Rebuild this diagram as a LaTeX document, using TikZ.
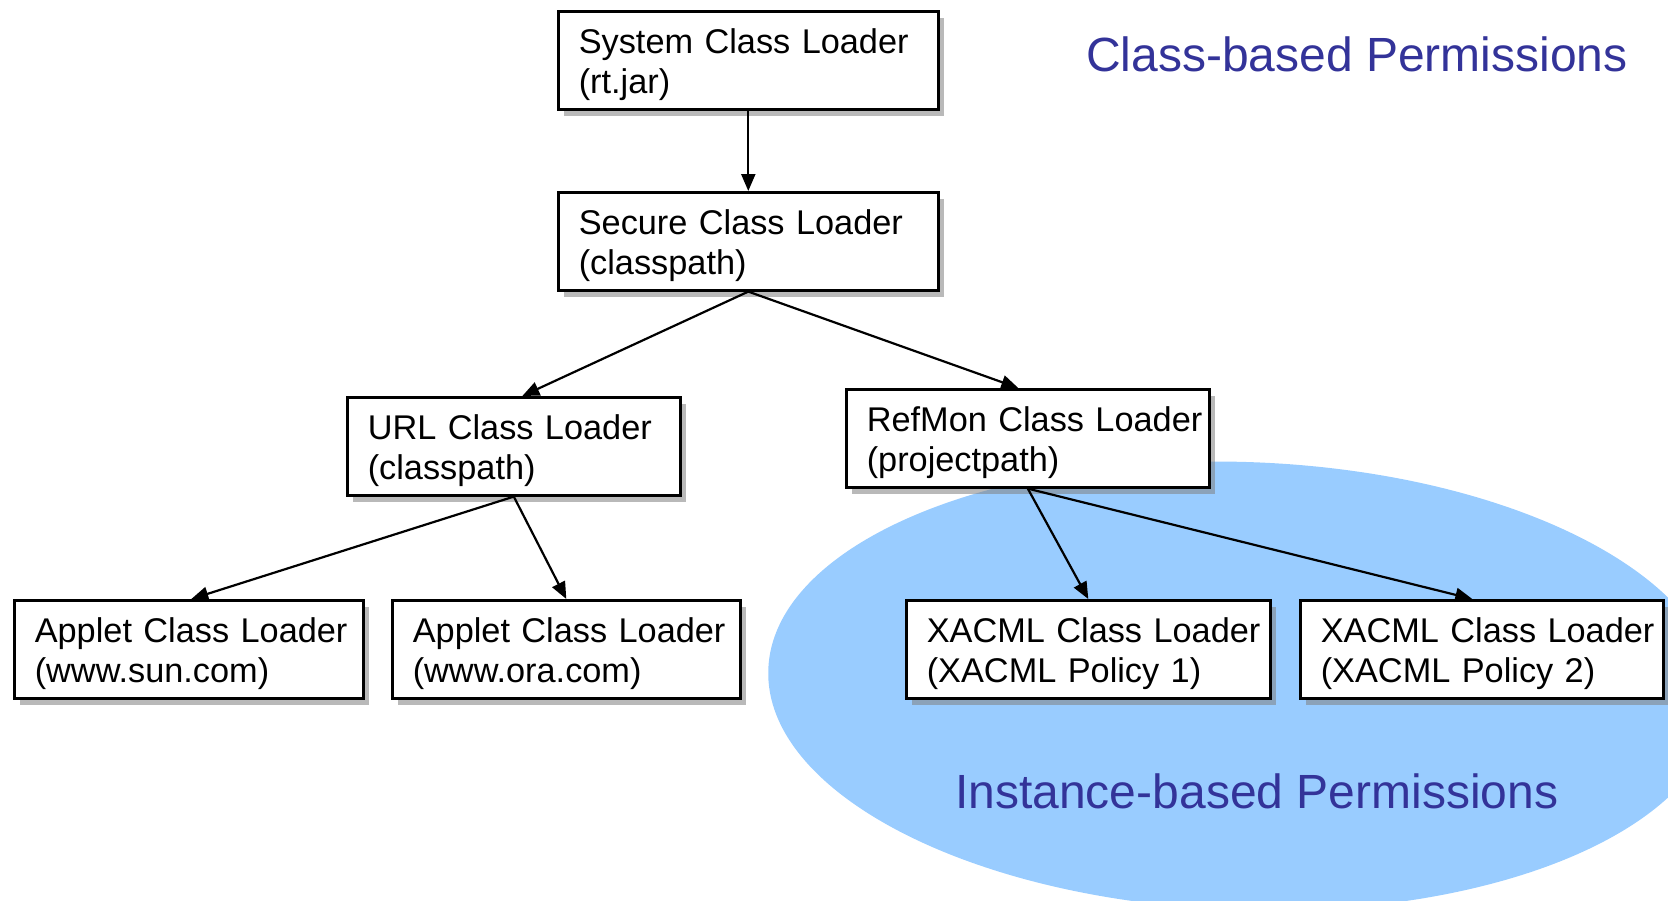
\documentclass[tikz,border=0pt]{standalone}
\usepackage{fontspec}
\setmainfont{Liberation Sans}
\usetikzlibrary{arrows.meta,shadows,calc}
\definecolor{permblue}{RGB}{51,51,153}
\definecolor{zonefill}{RGB}{153,204,255}
% two-line loader label: name on the first line, source on the second
\newcommand{\loaderlabel}[2]{\hspace*{20.5pt}\mbox{\rule{0pt}{42pt}#1}\\\hspace*{20.5pt}\mbox{#2\rule[-16pt]{0pt}{16pt}}}
\begin{document}
\begin{tikzpicture}[x=1pt,y=-1pt,
  loader/.style={draw=black, line width=2.6pt, fill=white, anchor=north west,
    inner xsep=0pt, inner ysep=0pt, align=left,
    font=\fontsize{34.3pt}{40pt}\selectfont,
    drop shadow={shadow xshift=6pt, shadow yshift=-7pt, fill=black!50, opacity=0.55}},
  link/.style={line width=2.2pt, -{Triangle[length=17pt,width=14pt]}},
  caption/.style={text=permblue, font=\fontsize{48pt}{56pt}\selectfont,
    anchor=base west, inner sep=0pt}]
\useasboundingbox (0,0) rectangle (1668,900);
\clip (0,0) rectangle (1668,900);

% instance-based permission zone
\fill[zonefill] (1243,686) circle [x radius=475pt, y radius=224pt, rotate=-2];

% class loader hierarchy
\node[loader, text width=380pt] (system) at (557,10)  {\loaderlabel{System Class Loader}{(rt.jar)}};
\node[loader, text width=380pt] (secure) at (557,191) {\loaderlabel{Secure Class Loader}{(classpath)}};
\node[loader, text width=333pt] (url)    at (346,396) {\loaderlabel{URL Class Loader}{(classpath)}};
\node[loader, text width=363pt] (refmon) at (845,388) {\loaderlabel{RefMon Class Loader}{(projectpath)}};
\node[loader, text width=349pt] (sun)    at (13,599)  {\loaderlabel{Applet Class Loader}{(www.sun.com)}};
\node[loader, text width=348pt] (ora)    at (391,599) {\loaderlabel{Applet Class Loader}{(www.ora.com)}};
\node[loader, text width=364pt] (xa1)    at (905,599) {\loaderlabel{XACML Class Loader}{(XACML Policy 1)}};
\node[loader, text width=363pt] (xa2)    at (1299,599) {\loaderlabel{XACML Class Loader}{(XACML Policy 2)}};

% parent-to-child delegation links
\draw[link] (system.south) -- (secure.north);
\draw[link] (secure.south) -- ($(url.north)+(8.5,0)$);
\draw[link] (secure.south) -- ($(refmon.north)+(-9.5,0)$);
\draw[link] (url.south) -- ($(sun.north)+(2.5,0)$);
\draw[link] (url.south) -- (ora.north);
\draw[link] (refmon.south) -- (xa1.north);
\draw[link] (refmon.south) -- ($(xa2.north)+(-9.5,0)$);

% region captions
\node[caption] (classperm) at (1086,71)  {Class-based Permissions};
\node[caption] (instperm)  at (955,808)  {Instance-based Permissions};
\end{tikzpicture}
\end{document}
